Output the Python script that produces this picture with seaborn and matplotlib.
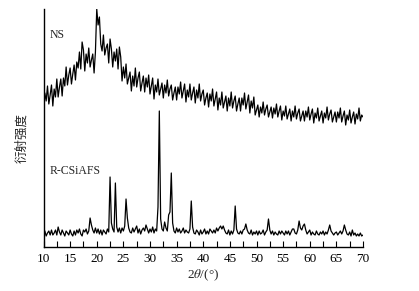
import numpy as np
import pandas as pd
import matplotlib
matplotlib.use("Agg")
import matplotlib.pyplot as plt
from matplotlib.ticker import NullFormatter, MultipleLocator
import seaborn as sns

# 2theta grid (degrees), 0.25 step from 10 to 70
two_theta = np.arange(10.0, 70.001, 0.25)

# NS pattern (arbitrary intensity units)
ns = [
    137, 154, 146, 161,   # 10
    143, 152, 162, 141,   # 11
    158, 150, 168, 150,   # 12
    160, 168, 151, 169,   # 13
    161, 180, 162, 172,   # 14
    179, 163, 173, 182,   # 15
    167, 185, 179, 195,   # 16
    178, 205, 197, 176,   # 17
    193, 184, 199, 180,   # 18
    187, 193, 174, 195,   # 19
    238, 222, 230, 203,   # 20
    196, 212, 192, 199,   # 21
    203, 184, 208, 198,   # 22
    180, 195, 186, 198,   # 23
    178, 200, 190, 166,   # 24
    180, 169, 183, 163,   # 25
    169, 175, 156, 171,   # 26
    161, 179, 160, 169,   # 27
    175, 156, 164, 171,   # 28
    155, 169, 160, 172,   # 29
    153, 161, 169, 148,   # 30
    162, 155, 168, 152,   # 31
    158, 164, 149, 162,   # 32
    154, 167, 151, 158,   # 33
    162, 147, 154, 160,   # 34
    147, 160, 153, 165,   # 35
    149, 156, 163, 145,   # 36
    157, 150, 163, 147,   # 37
    154, 160, 144, 157,   # 38
    149, 163, 146, 153,   # 39
    157, 142, 149, 154,   # 40
    140, 153, 146, 158,   # 41
    141, 148, 155, 137,   # 42
    149, 142, 155, 139,   # 43
    145, 151, 136, 149,   # 44
    141, 155, 139, 146,   # 45
    151, 136, 143, 149,   # 46
    136, 149, 142, 154,   # 47
    138, 145, 152, 134,   # 48
    146, 139, 150, 132,   # 49
    137, 142, 130, 140,   # 50
    134, 145, 132, 138,   # 51
    142, 130, 135, 140,   # 52
    129, 139, 133, 143,   # 53
    130, 136, 141, 127,   # 54
    136, 131, 141, 128,   # 55
    133, 138, 126, 136,   # 56
    130, 141, 128, 134,   # 57
    138, 126, 131, 136,   # 58
    126, 136, 130, 140,   # 59
    127, 133, 138, 124,   # 60
    134, 129, 139, 126,   # 61
    131, 136, 124, 134,   # 62
    129, 140, 127, 133,   # 63
    137, 125, 130, 135,   # 64
    125, 135, 129, 139,   # 65
    125, 131, 136, 122,   # 66
    132, 127, 137, 124,   # 67
    130, 135, 123, 133,   # 68
    128, 139, 126, 132,   # 69
    130,                  # 70
]

# R-CSiAFS pattern (arbitrary intensity units)
rcsiafs = [
    13, 16, 11, 14,   # 10
    16, 12, 17, 12,   # 11
    14, 17, 12, 20,   # 12
    15, 12, 17, 14,   # 13
    11, 16, 14, 12,   # 14
    17, 13, 11, 16,   # 15
    12, 17, 14, 18,   # 16
    13, 11, 17, 15,   # 17
    18, 13, 16, 29,   # 18
    22, 17, 14, 19,   # 19
    14, 18, 13, 17,   # 20
    12, 17, 15, 13,   # 21
    18, 15, 70, 24,   # 22
    18, 15, 64, 20,   # 23
    15, 19, 14, 19,   # 24
    16, 21, 48, 29,   # 25
    19, 15, 14, 19,   # 26
    15, 18, 21, 14,   # 27
    18, 13, 17, 19,   # 28
    16, 22, 18, 14,   # 29
    18, 15, 20, 14,   # 30
    18, 16, 40, 136,  # 31
    28, 18, 16, 25,   # 32
    19, 16, 32, 35,   # 33
    74, 24, 16, 14,   # 34
    19, 15, 18, 14,   # 35
    16, 19, 14, 17,   # 36
    15, 14, 18, 46,   # 37
    20, 14, 13, 17,   # 38
    15, 12, 17, 13,   # 39
    15, 18, 13, 16,   # 40
    13, 18, 16, 14,   # 41
    17, 14, 19, 16,   # 42
    19, 21, 18, 21,   # 43
    17, 14, 13, 17,   # 44
    12, 16, 13, 17,   # 45
    41, 18, 14, 13,   # 46
    16, 13, 17, 18,   # 47
    23, 17, 14, 13,   # 48
    17, 12, 15, 13,   # 49
    16, 12, 16, 13,   # 50
    14, 17, 12, 15,   # 51
    17, 28, 17, 13,   # 52
    16, 12, 15, 13,   # 53
    12, 16, 13, 16,   # 54
    14, 12, 16, 13,   # 55
    16, 12, 15, 18,   # 56
    18, 14, 13, 17,   # 57
    26, 19, 17, 21,   # 58
    23, 17, 13, 15,   # 59
    17, 12, 15, 13,   # 60
    12, 16, 13, 12,   # 61
    15, 13, 16, 12,   # 62
    15, 13, 17, 22,   # 63
    16, 14, 12, 14,   # 64
    15, 12, 14, 16,   # 65
    13, 16, 22, 17,   # 66
    13, 12, 15, 11,   # 67
    17, 12, 14, 11,   # 68
    13, 11, 14, 11,   # 69
    12,               # 70
]

series_names = ["NS", "R-CSiAFS"]
x_ticks = [10, 15, 20, 25, 30, 35, 40, 45, 50, 55, 60, 65, 70]

sns.set_theme(style="ticks")
plt.rcParams["font.family"] = ["Liberation Serif", "DejaVu Serif"]
plt.rcParams["mathtext.fontset"] = "stix"

df = pd.concat([
    pd.DataFrame({"2theta": two_theta, "I": ns, "sample": "NS"}),
    pd.DataFrame({"2theta": two_theta, "I": rcsiafs, "sample": "R-CSiAFS"}),
])

fig = plt.figure(figsize=(4.19, 2.91), dpi=100)
ax = fig.add_axes([43.5 / 419, 44 / 291, (363 - 43.5) / 419, (247 - 9) / 291])

sns.lineplot(data=df, x="2theta", y="I", units="sample", estimator=None,
             color="black", linewidth=0.9, ax=ax, legend=False)

ax.set_xlim(10, 70)
ax.set_ylim(0, 238)
ax.set_xticks(x_ticks)
ax.xaxis.set_minor_locator(MultipleLocator(2.5))
ax.xaxis.set_minor_formatter(NullFormatter())
ax.set_yticks([])
ax.tick_params(axis="x", which="both", direction="in", length=4, width=0.8,
               labelsize=9.5, pad=4, colors="black")
for s in ["top", "right"]:
    ax.spines[s].set_visible(False)
for s in ["left", "bottom"]:
    ax.spines[s].set_linewidth(1.0)
    ax.spines[s].set_color("black")

ax.set_xlabel("")
ax.set_ylabel("")
fig.text(203 / 419, 1 - 275 / 291, "2$\\mathit{\\theta}$/(°)", ha="center", va="center",
         fontsize=9.5)
fig.text(22 / 419, 1 - 138 / 291, "衍射强度", rotation=90, ha="center", va="center",
         fontsize=9, family=["Noto Sans CJK SC", "DejaVu Sans"])

ax.text(50 / 419, 1 - 35 / 291, series_names[0], transform=fig.transFigure,
        ha="left", va="center", fontsize=8.5)
ax.text(50 / 419, 1 - 171 / 291, series_names[1], transform=fig.transFigure,
        ha="left", va="center", fontsize=8.5)

fig.savefig("out.png", dpi=100, facecolor="white")
